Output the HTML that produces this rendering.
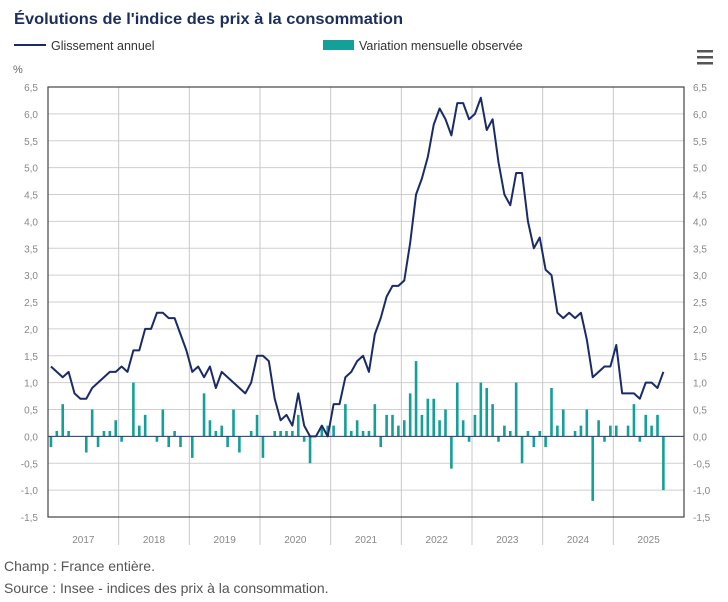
<!DOCTYPE html>
<html><head><meta charset="utf-8"><style>
body{margin:0;background:#fff;width:728px;height:602px;overflow:hidden;font-family:"Liberation Sans",sans-serif}
svg{position:absolute;left:0;top:0}
</style></head><body>
<svg width="728" height="602" id="chart">
<text x="14" y="24" font-size="16" font-weight="bold" fill="#1b2e5e" textLength="389" lengthAdjust="spacingAndGlyphs">Évolutions de l'indice des prix à la consommation</text>
<g><line x1="14" y1="45" x2="46" y2="45" stroke="#1a2b6b" stroke-width="2"/><text x="51" y="50" font-size="12.5" fill="#333">Glissement annuel</text></g>
<g><rect x="323" y="40" width="31" height="10" fill="#14a09a"/><text x="359" y="50" font-size="12.5" fill="#333">Variation mensuelle observée</text></g>
<g fill="#555"><rect x="697" y="50" width="16" height="2.5"/><rect x="697" y="56" width="16" height="2.5"/><rect x="697" y="62" width="16" height="2.5"/></g>
<text x="13" y="73" font-size="11" fill="#666">%</text>
<g id="grid"></g><g id="bars"></g><g id="line"></g><g id="frame"></g>
<text x="4" y="571" font-size="14" fill="#555">Champ : France entière.</text>
<text x="4" y="593" font-size="14" fill="#555">Source : Insee - indices des prix à la consommation.</text>
</svg>
<script>
const years=["2017","2018","2019","2020","2021","2022","2023","2024","2025"];
const yTicks=[6.5,6,5.5,5,4.5,4,3.5,3,2.5,2,1.5,1,0.5,0,-0.5,-1,-1.5];
const annual=[1.3,1.2,1.1,1.2,0.8,0.7,0.7,0.9,1.0,1.1,1.2,1.2,
1.3,1.2,1.6,1.6,2.0,2.0,2.3,2.3,2.2,2.2,1.9,1.6,
1.2,1.3,1.1,1.3,0.9,1.2,1.1,1.0,0.9,0.8,1.0,1.5,
1.5,1.4,0.7,0.3,0.4,0.2,0.8,0.2,0.0,0.0,0.2,0.0,
0.6,0.6,1.1,1.2,1.4,1.5,1.2,1.9,2.2,2.6,2.8,2.8,
2.9,3.6,4.5,4.8,5.2,5.8,6.1,5.9,5.6,6.2,6.2,5.9,
6.0,6.3,5.7,5.9,5.1,4.5,4.3,4.9,4.9,4.0,3.5,3.7,
3.1,3.0,2.3,2.2,2.3,2.2,2.3,1.8,1.1,1.2,1.3,1.3,
1.7,0.8,0.8,0.8,0.7,1.0,1.0,0.9,1.2];
const monthly=[-0.2,0.1,0.6,0.1,0.0,0.0,-0.3,0.5,-0.2,0.1,0.1,0.3,
-0.1,0.0,1.0,0.2,0.4,0.0,-0.1,0.5,-0.2,0.1,-0.2,0.0,
-0.4,0.0,0.8,0.3,0.1,0.2,-0.2,0.5,-0.3,0.0,0.1,0.4,
-0.4,0.0,0.1,0.1,0.1,0.1,0.4,-0.1,-0.5,0.0,0.2,0.2,
0.2,0.0,0.6,0.1,0.3,0.1,0.1,0.6,-0.2,0.4,0.4,0.2,
0.3,0.8,1.4,0.4,0.7,0.7,0.3,0.5,-0.6,1.0,0.3,-0.1,
0.4,1.0,0.9,0.6,-0.1,0.2,0.1,1.0,-0.5,0.1,-0.2,0.1,
-0.2,0.9,0.2,0.5,0.0,0.1,0.2,0.5,-1.2,0.3,-0.1,0.2,
0.2,0.0,0.2,0.6,-0.1,0.4,0.2,0.4,-1.0];
const NS="http://www.w3.org/2000/svg";
const X0=48,X1=684,Y0=87,Y1=517,YMAX=6.5,YMIN=-1.5;
const mw=(X1-X0)/(years.length*12);
const xs=i=>X0+(i+0.5)*mw;
const ys=v=>Y0+(YMAX-v)/(YMAX-YMIN)*(Y1-Y0);
function mk(t,a,p){const e=document.createElementNS(NS,t);for(const k in a)e.setAttribute(k,a[k]);p.appendChild(e);return e;}
const grid=document.getElementById('grid');
yTicks.forEach(v=>{
 const l=mk('line',{x1:X0,x2:X1,y1:ys(v),y2:ys(v),stroke:'#cfcfcf','stroke-width':1},grid);
 
 
 const s=v.toFixed(1).replace('.',',');
 const a=mk('text',{x:38,y:ys(v)+4,'font-size':10,fill:'#888','text-anchor':'end'},grid);a.textContent=s;
 
 
 const b=mk('text',{x:693,y:ys(v)+4,'font-size':10,fill:'#888'},grid);b.textContent=s;
 
 
});
years.forEach((y,k)=>{
 const x=X0+k*12*mw;
 if(k>0){const l=mk('line',{x1:x,x2:x,y1:Y0,y2:545,stroke:'#c8c8c8','stroke-width':1},grid);
 
 }
 const t=mk('text',{x:x+6*mw,y:543,'font-size':10,fill:'#888','text-anchor':'middle'},grid);t.textContent=y;
 
 
});
const bars=document.getElementById('bars');
monthly.forEach((v,i)=>{
 const y=Math.min(ys(v),ys(0)),h=Math.abs(ys(v)-ys(0));
 const r=mk('rect',{x:xs(i)-1.3,y:y,width:2.6,height:Math.max(h,0.01),fill:'#14a09a'},bars);
 
 
});
const z=mk('line',{x1:X0,x2:X1,y1:ys(0),y2:ys(0),stroke:'#2a3a7a','stroke-width':1},bars);


const ln=mk('polyline',{points:annual.map((v,i)=>xs(i)+','+ys(v)).join(' '),fill:'none',stroke:'#1a2b6b','stroke-width':2,'stroke-linejoin':'round'},document.getElementById('line'));


const fr=mk('rect',{x:X0,y:Y0,width:X1-X0,height:Y1-Y0,fill:'none',stroke:'#444','stroke-width':1.2},document.getElementById('frame'));


</script>
</body></html>
